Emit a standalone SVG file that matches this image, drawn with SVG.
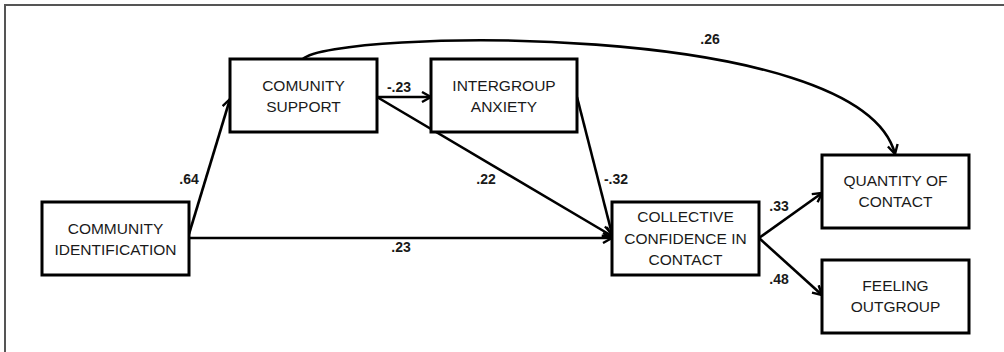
<svg xmlns="http://www.w3.org/2000/svg" width="1004" height="352" viewBox="0 0 1004 352">
<style>
.box{fill:#fff;stroke:#000;stroke-width:3}
.nt{font-family:"Liberation Sans",Arial,sans-serif;font-size:15.5px;fill:#1a1a1a;text-anchor:middle}
.lb{font-family:"Liberation Sans",Arial,sans-serif;font-size:14px;font-weight:bold;fill:#1a1a1a;text-anchor:middle}
.ed{fill:none;stroke:#000;stroke-width:2.6;marker-end:url(#ah)}
</style>
<defs>
<marker id="ah" viewBox="0 0 12 12" refX="11" refY="6" markerWidth="12" markerHeight="12" markerUnits="userSpaceOnUse" orient="auto">
<polyline points="2,1 11,6 2,11" fill="none" stroke="#000" stroke-width="2.4" stroke-linejoin="miter"/>
</marker>
</defs>
<rect width="1004" height="352" fill="#fff"/>
<path d="M5,352 V5 H1004" fill="none" stroke="#555" stroke-width="2"/>
<g id="connectors">
<path class="ed" d="M189,234 L230,99"/>
<path class="ed" d="M189,238 L612,238"/>
<path class="ed" d="M377,97 L431,97"/>
<path class="ed" d="M377,97 L612,236"/>
<path class="ed" d="M577,97 L612,234"/>
<path class="ed" d="M303,59 C330,30 860,18 895,154"/>
<path class="ed" d="M759,238 L822,193"/>
<path class="ed" d="M759,238 L822,295"/>
<text class="lb" x="189" y="184">.64</text>
<text class="lb" x="401" y="252">.23</text>
<text class="lb" x="399" y="92">-.23</text>
<text class="lb" x="486" y="184">.22</text>
<text class="lb" x="616" y="184">-.32</text>
<text class="lb" x="710" y="44">.26</text>
<text class="lb" x="779" y="211">.33</text>
<text class="lb" x="779" y="284">.48</text>
</g>
<g id="community-identification">
<rect class="box" x="42" y="202" width="147" height="73"/>
<text class="nt" x="115.5" y="234">COMMUNITY</text>
<text class="nt" x="115.5" y="255">IDENTIFICATION</text>
</g>
<g id="community-support">
<rect class="box" x="230" y="59" width="147" height="73"/>
<text class="nt" x="303.5" y="91">COMUNITY</text>
<text class="nt" x="303.5" y="112">SUPPORT</text>
</g>
<g id="intergroup-anxiety">
<rect class="box" x="431" y="59" width="146" height="73"/>
<text class="nt" x="504" y="91">INTERGROUP</text>
<text class="nt" x="504" y="112">ANXIETY</text>
</g>
<g id="collective-confidence">
<rect class="box" x="612" y="202" width="147" height="73"/>
<text class="nt" x="685.5" y="222">COLLECTIVE</text>
<text class="nt" x="685.5" y="244">CONFIDENCE IN</text>
<text class="nt" x="685.5" y="265">CONTACT</text>
</g>
<g id="quantity-of-contact">
<rect class="box" x="822" y="155" width="147" height="73"/>
<text class="nt" x="895.5" y="186">QUANTITY OF</text>
<text class="nt" x="895.5" y="207">CONTACT</text>
</g>
<g id="feeling-outgroup">
<rect class="box" x="822" y="260" width="147" height="73"/>
<text class="nt" x="895.5" y="291">FEELING</text>
<text class="nt" x="895.5" y="312">OUTGROUP</text>
</g>
</svg>
